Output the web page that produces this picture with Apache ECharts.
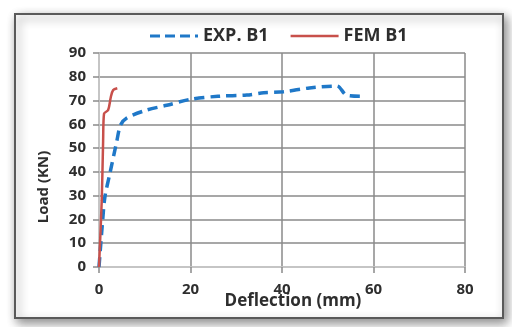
<!DOCTYPE html>
<html>
<head>
<meta charset="utf-8">
<script src="https://cdn.jsdelivr.net/npm/echarts@6/dist/echarts.min.js"></script>
<style>
  html, body { margin: 0; padding: 0; background: #ffffff; }
  #chart { width: 512px; height: 327px; }
</style>
</head>
<body>
<div id="chart"></div>
<script>
// Load-deflection curves for beam B1
const expDeflection = [0, 0.8, 1.3, 2.4, 3.9, 4.7, 6.0, 10.4, 14.8, 19.9, 26.0, 32.3, 36.0, 40.3, 46.0, 52.0, 54.1, 57.4];
const expLoad       = [0, 19.6, 29.6, 39.5, 53.0, 59.7, 62.6, 66.0, 68.0, 70.5, 71.8, 72.3, 73.3, 73.7, 75.3, 76.1, 72.3, 71.8];
const femDeflection = [0, 0.6, 0.9, 1.1, 2.0, 2.6, 3.1, 4.0];
const femLoad       = [0, 28, 53, 64.5, 66, 71.6, 74.4, 75.2];
const xTicks = [0, 20, 40, 60, 80];
const yTicks = [0, 10, 20, 30, 40, 50, 60, 70, 80, 90];
const seriesNames = ['EXP. B1', 'FEM B1'];

const pair = (xs, ys) => xs.map((x, i) => [x, ys[i]]);

const chart = echarts.init(document.getElementById('chart'), null, { renderer: 'canvas' });
const font = '"Open Sans", "DejaVu Sans", sans-serif';
const gridColor = '#8a8a8a';
const textColor = '#2e2e2e';

chart.setOption({
  animation: false,
  backgroundColor: '#ffffff',
  graphic: [{
    type: 'rect',
    z: -10,
    shape: { x: 15, y: 14, width: 488, height: 304 },
    style: {
      fill: '#ffffff', stroke: '#5a5a5a', lineWidth: 2,
      shadowBlur: 10, shadowColor: 'rgba(0,0,0,0.45)', shadowOffsetX: 3, shadowOffsetY: 4
    }
  }],
  legend: {
    top: 22,
    left: 145,
    itemWidth: 48,
    itemHeight: 14,
    itemGap: 22,
    textStyle: { fontFamily: font, fontWeight: 'bold', fontSize: 18, color: textColor },
    data: [
      { name: seriesNames[0], icon: 'path://M0,6 L10,6 L10,9 L0,9 Z M15,6 L25,6 L25,9 L15,9 Z M30,6 L40,6 L40,9 L30,9 Z M45,6 L48,6 L48,9 L45,9 Z' },
      { name: seriesNames[1], icon: 'path://M0,6 L48,6 L48,8.5 L0,8.5 Z' }
    ]
  },
  grid: { left: 99, right: 47, top: 53, bottom: 60 },
  xAxis: {
    type: 'value', min: 0, max: 80, interval: 20,
    name: 'Deflection (mm)', nameLocation: 'middle', nameGap: 26, nameMoveOverlap: false,
    nameTextStyle: { fontFamily: font, fontWeight: 'bold', fontSize: 17, color: textColor, padding: [0, 0, 0, 22] },
    axisLine: { show: true, lineStyle: { color: '#cfcfcf', width: 1.5 } },
    axisTick: { show: true, length: 6, lineStyle: { color: gridColor, width: 1.5 } },
    axisLabel: { margin: 15, fontFamily: font, fontWeight: 'bold', fontSize: 15, color: textColor,
                 formatter: v => xTicks.includes(v) ? String(v) : '' },
    splitLine: { show: true, lineStyle: { color: gridColor, width: 1.5 } }
  },
  yAxis: {
    type: 'value', min: 0, max: 90, interval: 10,
    name: 'Load (KN)', nameLocation: 'middle', nameGap: 48,
    nameTextStyle: { fontFamily: font, fontWeight: 'bold', fontSize: 15, color: textColor, padding: [0, 0, 0, -54] },
    axisLine: { show: true, lineStyle: { color: '#cfcfcf', width: 1.5 } },
    axisTick: { show: true, length: 6, lineStyle: { color: gridColor, width: 1.5 } },
    axisLabel: { margin: 13, fontFamily: font, fontWeight: 'bold', fontSize: 15, color: textColor,
                 formatter: v => yTicks.includes(v) ? String(v) : '' },
    splitLine: { show: true, lineStyle: { color: gridColor, width: 1.5 } }
  },
  series: [
    {
      name: seriesNames[0], type: 'line', showSymbol: false, smooth: 0.3,
      data: pair(expDeflection, expLoad),
      itemStyle: { color: '#1f78c8' },
      lineStyle: { color: '#1f78c8', width: 3.5, type: [10, 6] },
      z: 3
    },
    {
      name: seriesNames[1], type: 'line', showSymbol: false, smooth: 0.3,
      data: pair(femDeflection, femLoad),
      itemStyle: { color: '#c8504b' },
      lineStyle: { color: '#c8504b', width: 2.5 },
      z: 4
    }
  ]
});
</script>
</body>
</html>
